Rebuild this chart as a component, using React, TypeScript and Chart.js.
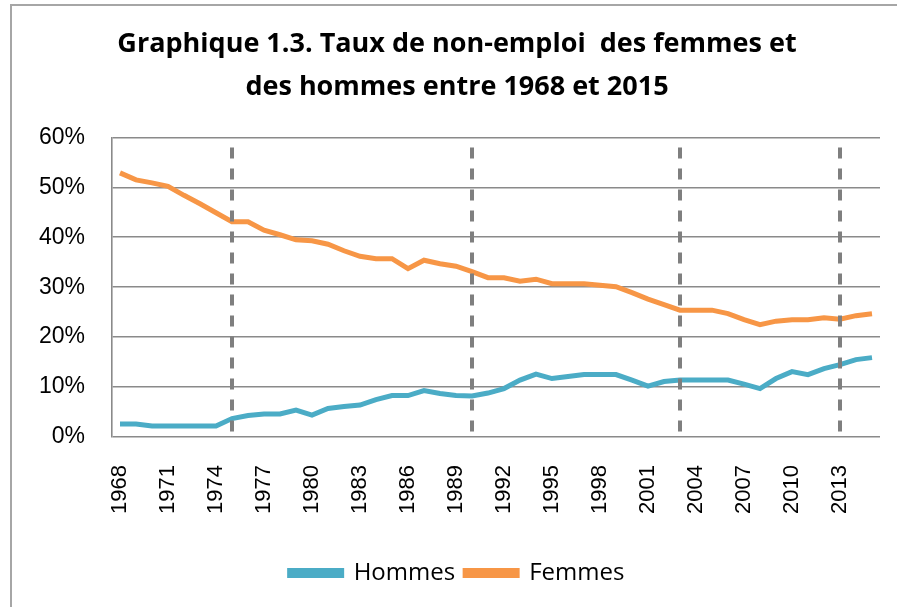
import React, { useEffect, useRef } from "react";
import { Chart, registerables } from "chart.js";

Chart.register(...registerables);

const years = [
  "1968", "1969", "1970", "1971", "1972", "1973", "1974", "1975", "1976", "1977",
  "1978", "1979", "1980", "1981", "1982", "1983", "1984", "1985", "1986", "1987",
  "1988", "1989", "1990", "1991", "1992", "1993", "1994", "1995", "1996", "1997",
  "1998", "1999", "2000", "2001", "2002", "2003", "2004", "2005", "2006", "2007",
  "2008", "2009", "2010", "2011", "2012", "2013", "2014", "2015",
];

const hommes = [
  2.6, 2.6, 2.2, 2.2, 2.2, 2.2, 2.2, 3.7, 4.3, 4.6,
  4.6, 5.4, 4.4, 5.7, 6.1, 6.4, 7.5, 8.3, 8.3, 9.3,
  8.7, 8.3, 8.2, 8.8, 9.7, 11.4, 12.6, 11.7, 12.1, 12.5,
  12.5, 12.5, 11.4, 10.2, 11.1, 11.4, 11.4, 11.4, 11.4, 10.6,
  9.7, 11.7, 13.1, 12.5, 13.7, 14.5, 15.5, 15.9,
];

const femmes = [
  52.9, 51.5, 50.9, 50.2, 48.4, 46.7, 44.9, 43.1, 43.1, 41.4,
  40.5, 39.5, 39.3, 38.6, 37.3, 36.2, 35.7, 35.7, 33.7, 35.4,
  34.7, 34.2, 33.1, 31.9, 31.9, 31.2, 31.6, 30.7, 30.7, 30.7,
  30.4, 30.1, 28.9, 27.6, 26.5, 25.4, 25.4, 25.4, 24.7, 23.5,
  22.5, 23.2, 23.5, 23.5, 23.9, 23.6, 24.3, 24.7,
];

const labeledYears = [
  "1968", "1971", "1974", "1977", "1980", "1983", "1986", "1989",
  "1992", "1995", "1998", "2001", "2004", "2007", "2010", "2013",
];

const dashedYears = ["1975", "1990", "2003", "2013"];

const titleLines = [
  "Graphique 1.3. Taux de non-emploi  des femmes et",
  "des hommes entre 1968 et 2015",
];

const dashPlugin = {
  id: "dashedYears",
  afterDatasetsDraw(chart: any) {
    const { ctx, chartArea, scales } = chart;
    ctx.save();
    ctx.strokeStyle = "#7f7f7f";
    ctx.lineWidth = 4;
    ctx.setLineDash([11, 10]);
    for (const yr of dashedYears) {
      const x = scales.x.getPixelForValue(years.indexOf(yr));
      ctx.beginPath();
      ctx.moveTo(x, chartArea.top + 10);
      ctx.lineTo(x, chartArea.bottom);
      ctx.stroke();
    }
    ctx.restore();
  },
};

export default function App() {
  const ref = useRef<HTMLCanvasElement | null>(null);

  useEffect(() => {
    if (!ref.current) return;
    const chart = new Chart(ref.current, {
      type: "line",
      data: {
        labels: years,
        datasets: [
          {
            label: "Hommes",
            data: hommes,
            borderColor: "#4bacc6",
            backgroundColor: "#4bacc6",
            borderWidth: 5,
            pointRadius: 0,
            tension: 0,
          },
          {
            label: "Femmes",
            data: femmes,
            borderColor: "#f79646",
            backgroundColor: "#f79646",
            borderWidth: 5,
            pointRadius: 0,
            tension: 0,
          },
        ],
      },
      options: {
        responsive: false,
        animation: false,
        devicePixelRatio: 1,
        layout: { padding: { left: 34, right: 17, top: 0, bottom: 12 } },
        plugins: {
          title: {
            display: true,
            text: titleLines,
            color: "#000",
            font: { family: "'Open Sans'", size: 27, weight: "bold", lineHeight: 1.6 },
            padding: { top: 23, bottom: 28 },
          },
          legend: {
            position: "bottom",
            labels: {
              color: "#000",
              font: { family: "'Open Sans'", size: 24 },
              boxWidth: 52,
              boxHeight: 5,
              padding: 10,
            },
          },
          tooltip: { enabled: false },
        },
        scales: {
          x: {
            offset: true,
            grid: { display: false, drawTicks: false },
            border: { display: false },
            afterFit: (scale: any) => {
              scale.height = 114;
              scale.paddingLeft = 0;
              scale.paddingRight = 0;
            },
            ticks: {
              autoSkip: false,
              minRotation: 90,
              maxRotation: 90,
              padding: 28,
              color: "#000",
              font: { family: "'Liberation Sans'", size: 22 },
              callback: (_v: any, i: number) =>
                labeledYears.includes(years[i]) ? years[i] : "",
            },
          },
          y: {
            min: 0,
            max: 60,
            afterFit: (scale: any) => {
              scale.width = 78;
            },
            grid: { color: "#8a8a8a", lineWidth: 1.6, drawTicks: false },
            border: { display: true, color: "#8a8a8a", width: 1.6 },
            ticks: {
              stepSize: 10,
              padding: 27,
              color: "#000",
              font: { family: "'Liberation Sans'", size: 23 },
              callback: (v: any) => v + "%",
            },
          },
        },
      },
      plugins: [dashPlugin],
    });
    return () => chart.destroy();
  }, []);

  return (
    <div
      style={{
        position: "absolute",
        left: 0,
        top: 0,
        width: 897,
        height: 607,
        overflow: "hidden",
        background: "#fff",
      }}
    >
      <canvas ref={ref} width={897} height={607} style={{ display: "block" }} />
      <div
        style={{
          position: "absolute",
          left: 10,
          top: 4,
          width: 1000,
          height: 1000,
          border: "2px solid #a6a6a6",
          pointerEvents: "none",
        }}
      />
    </div>
  );
}
